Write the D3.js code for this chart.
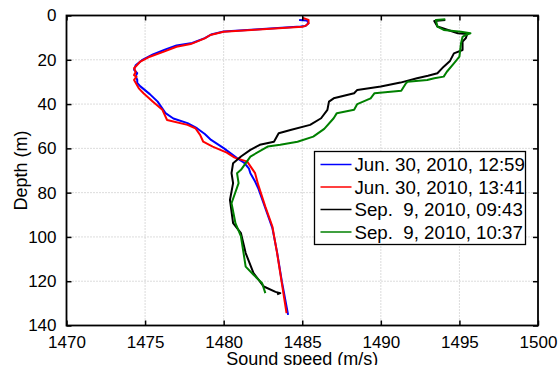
<!DOCTYPE html>
<html>
<head>
<meta charset="utf-8">
<script src="https://cdn.jsdelivr.net/npm/d3@7"></script>
<style>
  html, body { margin: 0; padding: 0; background: #fff; }
  svg { display: block; font-family: "Liberation Sans", Arial, Helvetica, sans-serif; }
  text { white-space: pre; }
</style>
</head>
<body>
<svg id="chart" width="560" height="365"></svg>
<script>
// Sound speed profiles: [speed (m/s), depth (m)]
const jun30_1259 = [
  [1484.8,2.0],[1485.3,2.3],[1485.4,3.5],[1485.2,4.7],[1484.9,5.0],[1482.0,6.3],[1480.0,7.2],
  [1479.2,8.6],[1478.8,10.2],[1478.0,12.4],[1477.0,13.5],[1476.3,15.3],[1475.5,17.6],[1474.8,20.2],
  [1474.4,22.5],[1474.3,24.5],[1474.5,26.0],[1474.4,27.5],[1474.5,29.0],[1474.5,30.5],[1474.7,32.0],
  [1475.3,35.5],[1475.8,38.9],[1476.3,44.1],[1476.8,46.5],[1477.7,48.6],[1478.3,50.9],[1478.8,53.5],
  [1479.2,56.2],[1480.0,59.9],[1480.85,64.4],[1481.3,66.5],[1481.6,69.0],[1481.7,71.2],[1482.0,75.0],
  [1482.2,78.0],[1482.5,84.0],[1482.9,92.0],[1483.1,96.0],[1483.4,107.0],[1483.7,120.0],[1484.1,135.2]
];
const jun30_1341 = [
  [1485.0,1.0],[1485.4,2.0],[1485.4,3.5],[1485.2,4.7],[1485.0,5.1],[1482.0,6.4],[1480.0,7.3],
  [1479.15,8.8],[1478.8,10.3],[1477.9,12.9],[1477.0,14.1],[1476.2,16.3],[1475.3,18.6],[1474.7,20.8],
  [1474.3,23.8],[1474.4,25.5],[1474.3,26.9],[1474.45,27.6],[1474.3,29.1],[1474.6,32.9],[1474.9,35.1],
  [1475.5,38.9],[1476.1,42.6],[1476.4,47.2],[1477.7,49.4],[1478.2,50.9],[1478.5,53.9],[1478.7,57.0],
  [1479.3,59.2],[1480.2,61.9],[1480.7,64.2],[1481.5,66.0],[1482.0,71.2],[1482.2,76.5],[1482.65,86.3],
  [1483.1,95.3],[1483.4,107.3],[1483.7,120.9],[1484.0,134.4]
];
const sep9_0943 = [
  [1494.1,2.0],[1493.4,2.5],[1493.6,5.0],[1494.9,8.0],[1495.5,8.3],[1495.4,10.3],[1495.2,11.8],
  [1495.2,15.6],[1494.65,17.1],[1494.4,20.5],[1494.0,23.1],[1493.6,26.1],[1493.0,27.2],[1492.3,28.3],
  [1491.25,30.3],[1490.0,32.1],[1488.5,33.6],[1488.3,35.1],[1487.0,37.4],[1486.7,38.9],[1486.6,42.6],
  [1486.2,46.4],[1485.5,49.4],[1484.25,51.7],[1483.5,53.2],[1483.2,57.0],[1482.3,58.4],[1481.7,60.7],
  [1481.1,63.7],[1480.6,66.7],[1480.5,71.2],[1480.6,75.7],[1480.4,83.3],[1480.6,93.8],[1481.1,98.3],
  [1481.4,107.3],[1481.9,116.3],[1482.55,122.4],[1483.3,124.8],[1483.6,125.4],[1483.4,125.9]
];
const sep9_1037 = [
  [1494.1,1.7],[1493.5,2.0],[1493.6,5.0],[1494.0,6.5],[1495.1,7.3],[1495.7,8.0],[1495.4,8.8],
  [1495.2,9.6],[1495.1,12.6],[1495.0,18.6],[1494.65,21.6],[1494.2,25.4],[1494.0,27.6],[1493.4,28.3],
  [1492.95,29.1],[1491.7,29.9],[1491.6,30.6],[1491.3,34.0],[1489.6,35.1],[1489.35,37.4],[1488.5,40.0],
  [1488.3,42.6],[1487.2,44.1],[1487.0,46.4],[1486.4,51.2],[1485.7,54.7],[1484.7,57.0],[1483.6,58.4],
  [1482.8,59.2],[1481.7,63.7],[1481.1,69.7],[1480.85,71.2],[1480.95,75.7],[1480.5,84.8],[1480.75,93.8],
  [1481.1,99.8],[1481.4,113.4],[1481.9,117.1],[1482.45,120.9],[1482.65,125.4]
];

const seriesLabels = ["Jun. 30, 2010, 12:59", "Jun. 30, 2010, 13:41", "Sep.  9, 2010, 09:43", "Sep.  9, 2010, 10:37"];
const seriesColors = ["#0000ff", "#ff0000", "#000000", "#008000"];
const seriesData = [jun30_1259, jun30_1341, sep9_0943, sep9_1037];

const speedTicks = [1470, 1475, 1480, 1485, 1490, 1495, 1500];
const depthTicks = [0, 20, 40, 60, 80, 100, 120, 140];

const svg = d3.select("#chart");
const plot = { left: 66.5, right: 538, top: 15.5, bottom: 325.5 };

const x = d3.scaleLinear().domain([1470, 1500]).range([plot.left, plot.right]);
const y = d3.scaleLinear().domain([0, 140]).range([plot.top, plot.bottom]);

// dotted grid
const grid = svg.append("g");
grid.selectAll("line.gx").data(speedTicks.slice(1, -1)).join("line")
  .attr("x1", d => x(d)).attr("x2", d => x(d))
  .attr("y1", plot.top).attr("y2", plot.bottom)
  .attr("stroke", "#b8b8b8").attr("stroke-width", 1).attr("stroke-dasharray", "1,2");
grid.selectAll("line.gy").data(depthTicks.slice(1, -1)).join("line")
  .attr("y1", d => y(d)).attr("y2", d => y(d))
  .attr("x1", plot.left).attr("x2", plot.right)
  .attr("stroke", "#b8b8b8").attr("stroke-width", 1).attr("stroke-dasharray", "1,2");

// profiles
const line = d3.line().x(d => x(d[0])).y(d => y(d[1]));
svg.append("g").selectAll("path").data(seriesData).join("path")
  .attr("d", line)
  .attr("fill", "none")
  .attr("stroke", (d, i) => seriesColors[i])
  .attr("stroke-width", 2)
  .attr("stroke-linejoin", "round");

// axes with inward ticks on all four sides
const fontSize = 17;
const bottomAxis = d3.axisBottom(x).tickValues(speedTicks).tickSize(-5).tickPadding(10).tickFormat(d3.format("d"));
const topAxis = d3.axisTop(x).tickValues(speedTicks).tickSize(-5).tickFormat("");
const leftAxis = d3.axisLeft(y).tickValues(depthTicks).tickSize(-5).tickPadding(10).tickFormat(d3.format("d"));
const rightAxis = d3.axisRight(y).tickValues(depthTicks).tickSize(-5).tickFormat("");

function styleAxis(g) {
  g.select(".domain").remove();
  g.selectAll(".tick line").attr("stroke", "#000").attr("stroke-width", 1.5);
  g.selectAll("text").attr("fill", "#000").style("font-size", fontSize + "px")
    .style("font-family", "'Liberation Sans', Arial, sans-serif");
}
svg.append("g").attr("transform", `translate(0,${plot.bottom})`).call(bottomAxis).call(styleAxis);
svg.append("g").attr("transform", `translate(0,${plot.top})`).call(topAxis).call(styleAxis);
svg.append("g").attr("transform", `translate(${plot.left},0)`).call(leftAxis).call(styleAxis);
svg.append("g").attr("transform", `translate(${plot.right},0)`).call(rightAxis).call(styleAxis);

// frame
svg.append("rect")
  .attr("x", plot.left).attr("y", plot.top)
  .attr("width", plot.right - plot.left).attr("height", plot.bottom - plot.top)
  .attr("fill", "none").attr("stroke", "#000").attr("stroke-width", 1.8);

// axis titles
svg.append("text")
  .attr("x", (plot.left + plot.right) / 2).attr("y", 364.5)
  .attr("text-anchor", "middle").style("font-size", "18px").attr("fill", "#000")
  .text("Sound speed (m/s)");
svg.append("text")
  .attr("transform", `translate(27,${(plot.top + plot.bottom) / 2}) rotate(-90)`)
  .attr("text-anchor", "middle").style("font-size", "18px").attr("fill", "#000")
  .text("Depth (m)");

// legend
const legend = svg.append("g").attr("transform", "translate(314.5,151.5)");
legend.append("rect").attr("width", 211).attr("height", 93)
  .attr("fill", "#fff").attr("stroke", "#000").attr("stroke-width", 1.3);
const rows = legend.selectAll("g.row").data(seriesLabels).join("g")
  .attr("transform", (d, i) => `translate(0,${13 + i * 22.5})`);
rows.append("line").attr("x1", 6).attr("x2", 37).attr("y1", 0).attr("y2", 0)
  .attr("stroke", (d, i) => seriesColors[i]).attr("stroke-width", 1.5);
rows.append("text").attr("x", 40).attr("dy", "0.36em")
  .style("font-size", "18.7px").attr("fill", "#000")
  .text(d => d);
</script>
</body>
</html>
